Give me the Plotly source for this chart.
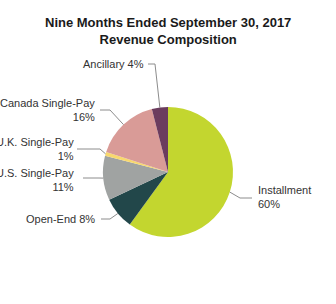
import math
import plotly.graph_objects as go

# Data
categories = ["Installment", "Open-End", "U.S. Single-Pay", "U.K. Single-Pay", "Canada Single-Pay", "Ancillary"]
values = [60, 8, 11, 1, 16, 4]
label_texts = ["Installment<br>60%", "Open-End 8%", "U.S. Single-Pay<br>11%",
               "U.K. Single-Pay<br>1%", "Canada Single-Pay<br>16%", "Ancillary 4%"]
colors = ["#C3D62F", "#22474A", "#A0A3A2", "#F8D86E", "#D99B97", "#6B3C5E"]

W, H = 336, 304
CX, CY, R = 168, 172, 65

def px(x):
    return x / W

def py(y):
    return 1 - y / H

fig = go.Figure()
fig.add_trace(go.Pie(
    labels=categories, values=values, sort=False, direction="clockwise", rotation=0,
    marker=dict(colors=colors, line=dict(width=0)),
    textinfo="none", hoverinfo="label+percent", showlegend=False,
    domain=dict(x=[px(CX - R), px(CX + R)], y=[py(CY + R), py(CY - R)]),
))

# label layout: (text anchor x, text center y, xanchor, line start x, elbow x, elbow y)
layout_pos = [
    (256, 197, "left", 252, 240, 198),
    (97, 219, "right", 101, 110, 219),
    (76, 180, "right", 83, 99, 178),
    (76, 149, "right", 77, 100, 149),
    (97, 110, "right", 100, 110, 110),
    (146, 64, "right", 148, 155, 64),
]

total = sum(values)
cum = 0
shapes = []
annotations = []
for v, txt, pos in zip(values, label_texts, layout_pos):
    mid = (cum + v / 2) / total * 2 * math.pi
    cum += v
    ex = CX + R * math.sin(mid)
    ey = CY - R * math.cos(mid)
    tx, ty, xa, lx, bx, by = pos
    path = f"M {px(lx)},{py(by)} L {px(bx)},{py(by)} L {px(ex)},{py(ey)}"
    shapes.append(dict(type="path", path=path, xref="paper", yref="paper",
                       line=dict(color="#8C8C8C", width=1)))
    annotations.append(dict(text=txt, x=px(tx), y=py(ty), xref="paper", yref="paper",
                            xanchor=xa, yanchor="middle", align=xa, showarrow=False,
                            font=dict(family="Liberation Sans, Arial, sans-serif", size=11, color="#333333")))

annotations.append(dict(text="<b>Nine Months Ended September 30, 2017<br>Revenue Composition</b>",
                        x=0.5, y=py(31), xref="paper", yref="paper", xanchor="center", yanchor="middle",
                        showarrow=False, align="center",
                        font=dict(family="Liberation Sans, Arial, sans-serif", size=13, color="#1a1a1a")))

fig.update_layout(
    width=W, height=H, margin=dict(l=0, r=0, t=0, b=0),
    paper_bgcolor="white", plot_bgcolor="white",
    shapes=shapes, annotations=annotations,
)

fig.write_html("out.html")
